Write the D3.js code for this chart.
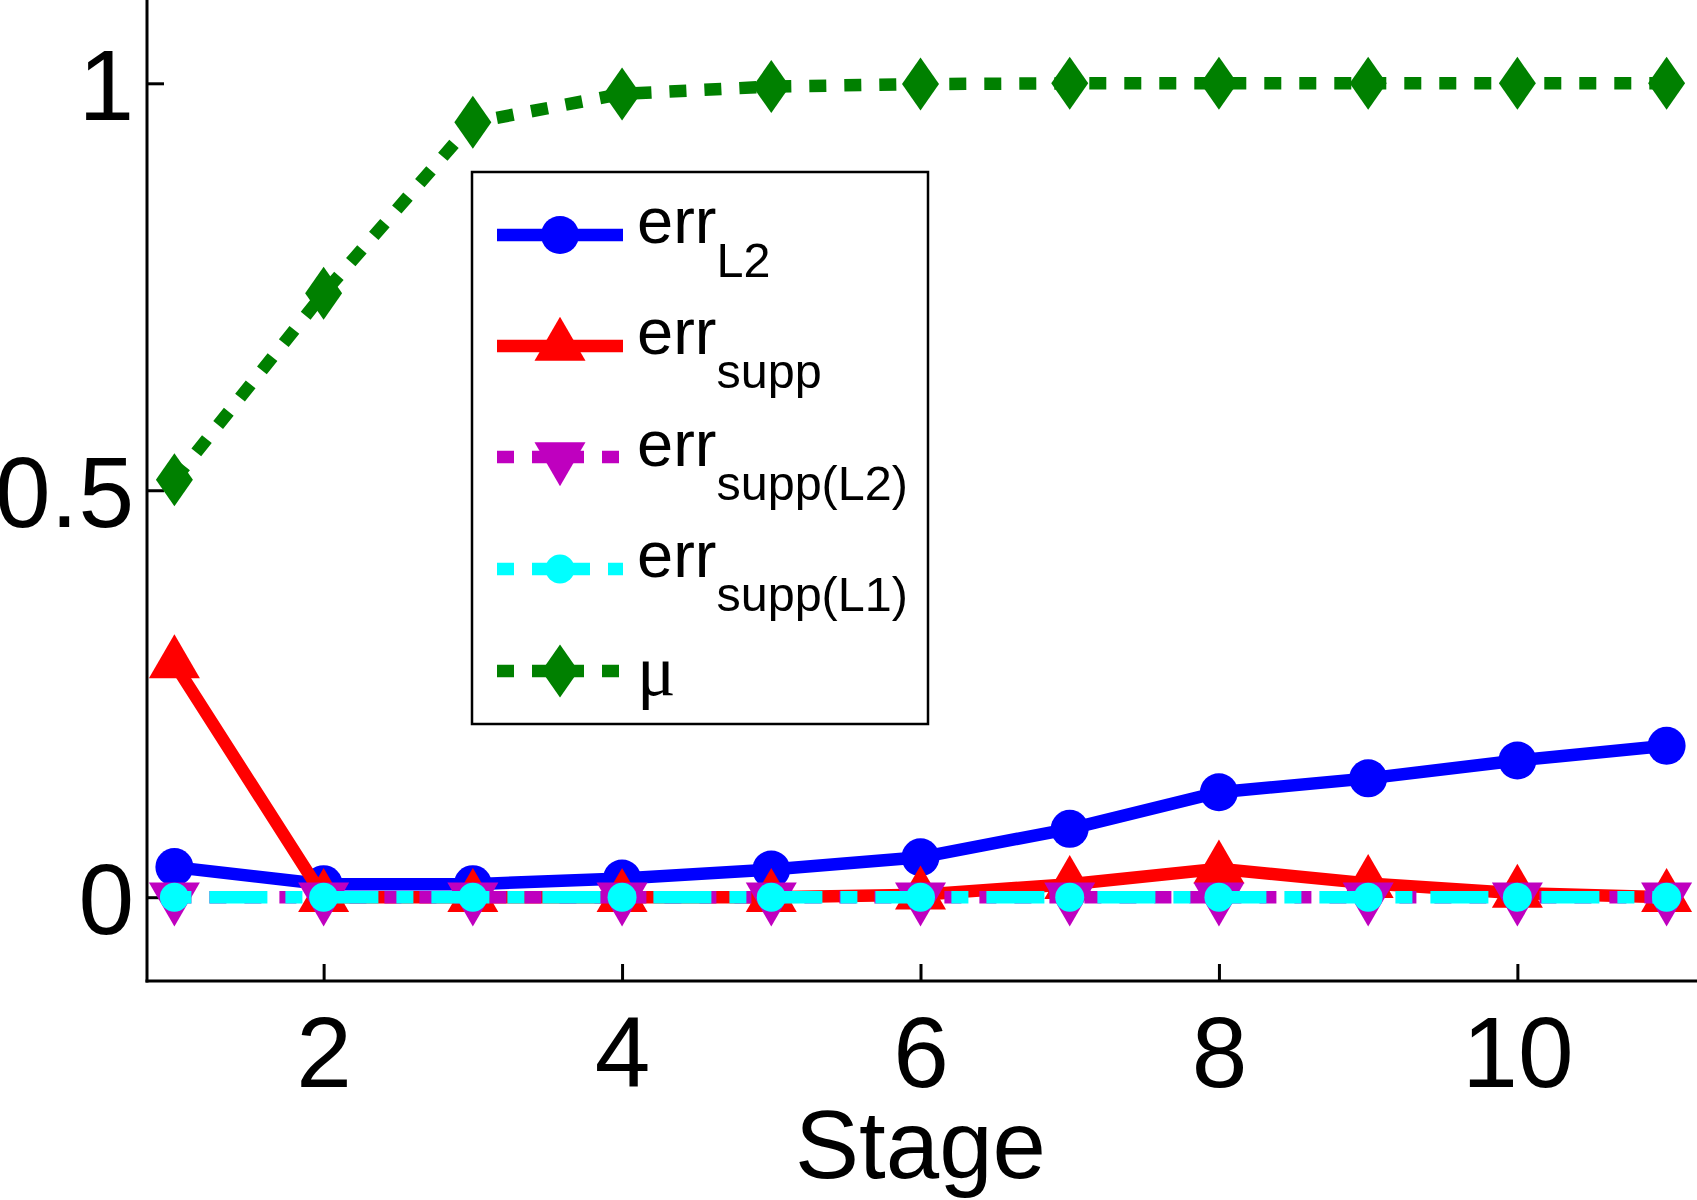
<!DOCTYPE html>
<html>
<head>
<meta charset="utf-8">
<script src="https://cdn.jsdelivr.net/npm/d3@7"></script>
<style>
  html, body { margin: 0; padding: 0; background: #fff; }
  svg { display: block; }
</style>
</head>
<body>
<svg id="chart" width="1697" height="1200"></svg>
<script>
// ---- data ----
const stages = [1, 2, 3, 4, 5, 6, 7, 8, 9, 10, 11];
const errL2 = [0.037, 0.016, 0.016, 0.023, 0.034, 0.049, 0.084, 0.129, 0.146, 0.168, 0.186];
const errSupp = [0.287, 0.000, 0.000, 0.000, 0.000, 0.003, 0.016, 0.035, 0.017, 0.005, 0.000];
const errSuppL2 = [0, 0, 0, 0, 0, 0, 0, 0, 0, 0, 0];
const errSuppL1 = [0, 0, 0, 0, 0, 0, 0, 0, 0, 0, 0];
const mu = [0.513, 0.742, 0.952, 0.987, 0.996, 0.999, 1.000, 1.000, 1.000, 1.000, 1.000];
const xTicks = [2, 4, 6, 8, 10];
const yTicks = [0, 0.5, 1];
const yTickLabels = ["0", "0.5", "1"];
const xLabel = "Stage";
const legendMain = ["err", "err", "err", "err", "\u03BC"];
const legendSub = ["L2", "supp", "supp(L2)", "supp(L1)", ""];

// ---- layout ----
const svg = d3.select("#chart");
const axisLeftX = 147, axisBottomY = 981;
const x = d3.scaleLinear().domain([1, 11]).range([174.4, 1666.6]);
const y = d3.scaleLinear().domain([0, 1]).range([897.2, 83.3]);
const FONT = "'Liberation Sans', Arial, Helvetica, sans-serif";

const series = [
  { values: errL2, color: "#0000ff", dash: null, marker: "circle" },
  { values: errSupp, color: "#ff0000", dash: null, marker: "tri-up" },
  { values: errSuppL2, color: "#bf00bf", dash: "17,18", marker: "tri-down" },
  { values: errSuppL1, color: "#00ffff", dash: "17,18,58,18", marker: "small-circle" },
  { values: mu, color: "#008000", dash: "17,18", marker: "diamond" }
];

function markerPath(type) {
  switch (type) {
    case "tri-up": return "M0,-29.3L25.5,14.7L-25.5,14.7Z";
    case "tri-down": return "M0,29.3L25.5,-14.7L-25.5,-14.7Z";
    case "diamond": return "M0,-26.5L18.5,0L0,26.5L-18.5,0Z";
    default: return null;
  }
}
function drawMarker(g, type, cx, cy, color) {
  if (type === "circle" || type === "small-circle") {
    g.append("circle").attr("cx", cx).attr("cy", cy)
      .attr("r", type === "circle" ? 19 : 14.5).attr("fill", color);
  } else {
    g.append("path").attr("d", markerPath(type))
      .attr("transform", `translate(${cx},${cy})`).attr("fill", color);
  }
}

// ---- axes ----
const axG = svg.append("g");
axG.append("line").attr("x1", axisLeftX).attr("x2", axisLeftX).attr("y1", 0).attr("y2", axisBottomY + 1.5)
  .attr("stroke", "#000").attr("stroke-width", 3);
axG.append("line").attr("x1", axisLeftX - 1.5).attr("x2", 1697).attr("y1", axisBottomY).attr("y2", axisBottomY)
  .attr("stroke", "#000").attr("stroke-width", 3);

const xAxis = d3.axisBottom(x).tickValues(xTicks).tickFormat(d3.format("d"))
  .tickSizeInner(-17).tickSizeOuter(0).tickPadding(35);
const gx = svg.append("g").attr("transform", `translate(0,${axisBottomY})`).call(xAxis);
gx.select(".domain").remove();
gx.selectAll(".tick line").attr("stroke", "#000").attr("stroke-width", 3);
gx.selectAll(".tick text").attr("font-family", FONT).attr("font-size", 100).attr("fill", "#000");

const yAxis = d3.axisLeft(y).tickValues(yTicks).tickFormat((d, i) => yTickLabels[i])
  .tickSizeInner(-17).tickSizeOuter(0).tickPadding(13);
const gy = svg.append("g").attr("transform", `translate(${axisLeftX},0)`).call(yAxis);
gy.select(".domain").remove();
gy.selectAll(".tick line").attr("stroke", "#000").attr("stroke-width", 3);
gy.selectAll(".tick text").attr("font-family", FONT).attr("font-size", 100).attr("fill", "#000").attr("dy", "0.36em");

svg.append("text").attr("x", x(6)).attr("y", 1178).attr("text-anchor", "middle")
  .attr("font-family", FONT).attr("font-size", 96).attr("fill", "#000").text(xLabel);

// ---- series ----
const line = d3.line().x((d, i) => x(stages[i])).y(d => y(d));
series.forEach(s => {
  const g = svg.append("g");
  const p = g.append("path").datum(s.values).attr("d", line)
    .attr("fill", "none").attr("stroke", s.color).attr("stroke-width", 12.5)
    .attr("stroke-linejoin", "miter").attr("stroke-linecap", "butt");
  if (s.dash) p.attr("stroke-dasharray", s.dash);
  s.values.forEach((v, i) => drawMarker(g, s.marker, x(stages[i]), y(v), s.color));
});

// ---- legend ----
const lg = svg.append("g");
lg.append("rect").attr("x", 472).attr("y", 172).attr("width", 456).attr("height", 552)
  .attr("fill", "#fff").attr("stroke", "#000").attr("stroke-width", 2.5);
const rowY = [235, 346, 457, 569, 671];
const baseY = [243, 354, 466, 577, 695];
series.forEach((s, i) => {
  const ry = rowY[i];
  const l = lg.append("line").attr("x1", 497).attr("x2", 623).attr("y1", ry).attr("y2", ry)
    .attr("stroke", s.color).attr("stroke-width", 12.5);
  if (s.dash) l.attr("stroke-dasharray", s.dash);
  drawMarker(lg, s.marker, 560, ry, s.color);
  if (legendSub[i]) {
    const t = lg.append("text").attr("x", 637).attr("y", baseY[i])
      .attr("font-family", FONT).attr("font-size", 65).attr("fill", "#000");
    t.append("tspan").text(legendMain[i]);
    t.append("tspan").attr("font-size", 48.5).attr("dy", 34).text(legendSub[i]);
  } else {
    lg.append("text").attr("x", 637).attr("y", baseY[i])
      .attr("font-family", "'Liberation Serif', 'Times New Roman', serif").attr("font-size", 72)
      .attr("fill", "#000").text(legendMain[i]);
  }
});
</script>
</body>
</html>
